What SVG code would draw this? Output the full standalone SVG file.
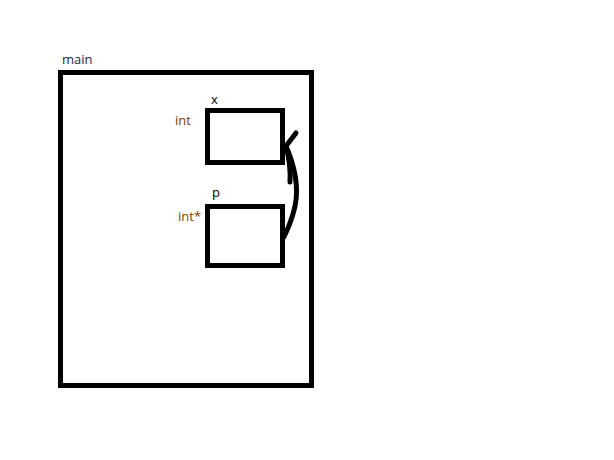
<svg xmlns="http://www.w3.org/2000/svg" width="614" height="460" viewBox="0 0 614 460">
<style>
.box{fill:none;stroke:#000;stroke-width:5}
.lbl{font-family:"Open Sans","Noto Sans",sans-serif;font-size:13px}
.type{fill:#804000}
.name{fill:#000}
.conn{fill:none;stroke:#000;stroke-width:5;stroke-linecap:round}
</style>
<rect width="614" height="460" fill="#fff"/>
<g id="main">
<rect class="box" x="60.5" y="72.5" width="251" height="313"/>
<text class="lbl" x="62" y="64" fill="#1f1f3f">main</text>
</g>
<g id="x">
<rect class="box" x="207.5" y="110.5" width="75" height="52"/>
<text class="lbl name" x="211" y="104">x</text>
<text class="lbl type" x="175" y="125">int</text>
</g>
<g id="p">
<rect class="box" x="207.5" y="206.5" width="75" height="59"/>
<text class="lbl name" x="212" y="197">p</text>
<text class="lbl type" x="178" y="221">int*</text>
</g>
<g id="connectors">
<path class="conn" d="M284,237 C296,212 304,188 286,146"/>
<path class="conn" d="M286,146 L296,133"/>
<path class="conn" d="M286,146 Q291,165 290,182"/>
</g>
</svg>
